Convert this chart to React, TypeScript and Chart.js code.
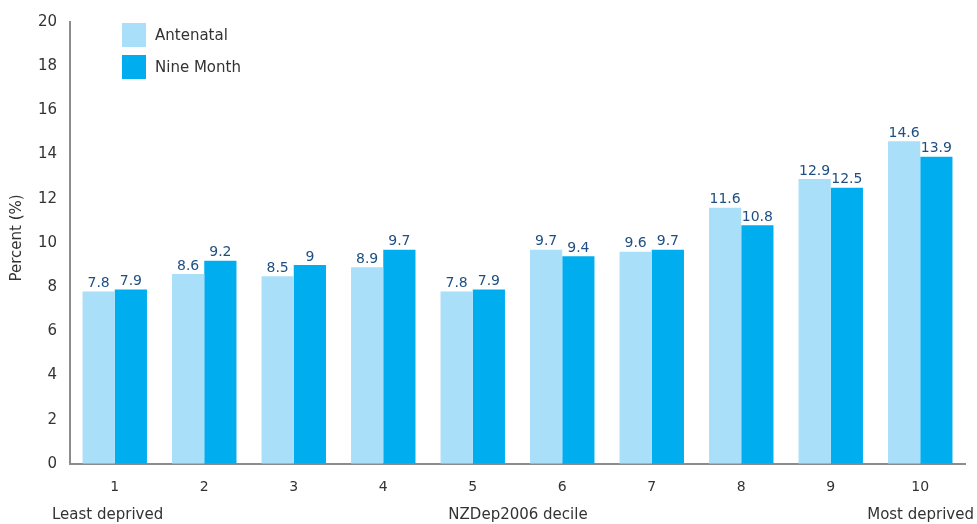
import React, { useEffect, useRef } from "react";
import { Chart, registerables } from "chart.js";

Chart.register(...registerables);

const categories = ["1", "2", "3", "4", "5", "6", "7", "8", "9", "10"];
const antenatal = [7.8, 8.6, 8.5, 8.9, 7.8, 9.7, 9.6, 11.6, 12.9, 14.6];
const nineMonth = [7.9, 9.2, 9, 9.7, 7.9, 9.4, 9.7, 10.8, 12.5, 13.9];
const seriesNames = ["Antenatal", "Nine Month"];
const yTitle = "Percent (%)";
const bottomLabels = ["Least deprived", "NZDep2006 decile", "Most deprived"];

const FONT = "'DejaVu Sans', Verdana, sans-serif";
const LIGHT = "#aadff9";
const DARK = "#00aeef";
const LABEL_COLOR = "#1f4f82";
const TEXT = "#333333";

const extrasPlugin = {
  id: "extras",
  afterDatasetsDraw(chart: any) {
    const ctx = chart.ctx;
    ctx.save();
    // value labels
    ctx.font = `14px ${FONT}`;
    ctx.fillStyle = LABEL_COLOR;
    ctx.textAlign = "center";
    ctx.textBaseline = "bottom";
    chart.data.datasets.forEach((ds: any, i: number) => {
      const meta = chart.getDatasetMeta(i);
      meta.data.forEach((bar: any, j: number) => {
        ctx.fillText(String(ds.data[j]), bar.x, bar.y - 1);
      });
    });
    // legend
    ctx.font = `15px ${FONT}`;
    ctx.textAlign = "left";
    ctx.textBaseline = "middle";
    chart.data.datasets.forEach((ds: any, i: number) => {
      const y = 23 + i * 32;
      ctx.fillStyle = ds.backgroundColor;
      ctx.fillRect(122, y, 24, 24);
      ctx.fillStyle = TEXT;
      ctx.fillText(ds.label, 155, y + 13);
    });
    // bottom labels
    ctx.font = `15px ${FONT}`;
    ctx.fillStyle = TEXT;
    ctx.textBaseline = "middle";
    ctx.textAlign = "left";
    ctx.fillText(bottomLabels[0], 52, 515);
    ctx.textAlign = "center";
    ctx.fillText(bottomLabels[1], 518, 515);
    ctx.textAlign = "right";
    ctx.fillText(bottomLabels[2], 974, 515);
    // y title
    ctx.translate(17, 238);
    ctx.rotate(-Math.PI / 2);
    ctx.textAlign = "center";
    ctx.font = `15px ${FONT}`;
    ctx.fillText(yTitle, 0, 0);
    ctx.restore();
  },
};

export default function App() {
  const ref = useRef<HTMLCanvasElement | null>(null);
  useEffect(() => {
    if (!ref.current) return;
    const chart = new Chart(ref.current, {
      type: "bar",
      data: {
        labels: categories,
        datasets: [
          { label: seriesNames[0], data: antenatal, backgroundColor: LIGHT },
          { label: seriesNames[1], data: nineMonth, backgroundColor: DARK },
        ],
      },
      options: {
        animation: false,
        responsive: true,
        maintainAspectRatio: false,
        layout: { padding: { top: 20, right: 12, left: 0, bottom: 0 } },
        plugins: { legend: { display: false }, tooltip: { enabled: false } },
        datasets: { bar: { categoryPercentage: 0.72, barPercentage: 1 } },
        scales: {
          x: {
            grid: { color: "transparent", drawTicks: false },
            border: { display: true, color: "#8c8c8c", width: 2 },
            ticks: { color: TEXT, font: { family: FONT, size: 14 }, padding: 15 },
            afterFit: (s: any) => { s.height = 60; },
          },
          y: {
            min: 0,
            max: 20,
            grid: { color: "transparent", drawTicks: false },
            border: { display: true, color: "#8c8c8c", width: 2 },
            ticks: { stepSize: 2, color: TEXT, font: { family: FONT, size: 15 }, padding: 13 },
            afterFit: (s: any) => { s.width = 70; },
          },
        },
      },
      plugins: [extrasPlugin],
    });
    return () => chart.destroy();
  }, []);
  return (
    <div style={{ position: "fixed", left: 0, top: 0, width: 977, height: 524, background: "#fff" }}>
      <canvas ref={ref} />
    </div>
  );
}
